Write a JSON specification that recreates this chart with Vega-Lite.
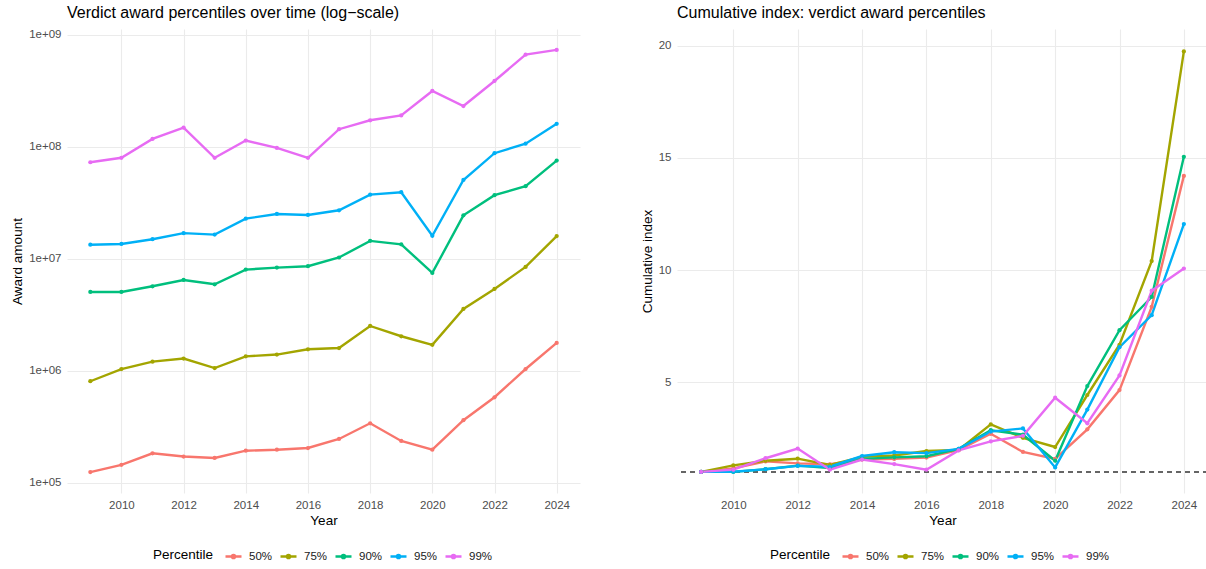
{
  "$schema": "https://vega.github.io/schema/vega-lite/v6.json",
  "background": "white",
  "padding": {"left": 10, "top": 4, "right": 0, "bottom": 0},
  "datasets": {
    "d": [
      {"year":2009,"pct":"50%","amount":125000,"index":1},
      {"year":2010,"pct":"50%","amount":145000,"index":1.16},
      {"year":2011,"pct":"50%","amount":184000,"index":1.47},
      {"year":2012,"pct":"50%","amount":172000,"index":1.38},
      {"year":2013,"pct":"50%","amount":167000,"index":1.34},
      {"year":2014,"pct":"50%","amount":194000,"index":1.55},
      {"year":2015,"pct":"50%","amount":198000,"index":1.58},
      {"year":2016,"pct":"50%","amount":205000,"index":1.64},
      {"year":2017,"pct":"50%","amount":247000,"index":1.97},
      {"year":2018,"pct":"50%","amount":341000,"index":2.70},
      {"year":2019,"pct":"50%","amount":237000,"index":1.89},
      {"year":2020,"pct":"50%","amount":198000,"index":1.58},
      {"year":2021,"pct":"50%","amount":363000,"index":2.90},
      {"year":2022,"pct":"50%","amount":582000,"index":4.65},
      {"year":2023,"pct":"50%","amount":1040000,"index":8.36},
      {"year":2024,"pct":"50%","amount":1780000,"index":14.2},
      {"year":2009,"pct":"75%","amount":809000,"index":1},
      {"year":2010,"pct":"75%","amount":1040000,"index":1.29},
      {"year":2011,"pct":"75%","amount":1210000,"index":1.50},
      {"year":2012,"pct":"75%","amount":1290000,"index":1.59},
      {"year":2013,"pct":"75%","amount":1060000,"index":1.31},
      {"year":2014,"pct":"75%","amount":1350000,"index":1.67},
      {"year":2015,"pct":"75%","amount":1400000,"index":1.73},
      {"year":2016,"pct":"75%","amount":1560000,"index":1.93},
      {"year":2017,"pct":"75%","amount":1600000,"index":1.98},
      {"year":2018,"pct":"75%","amount":2520000,"index":3.12},
      {"year":2019,"pct":"75%","amount":2040000,"index":2.52},
      {"year":2020,"pct":"75%","amount":1710000,"index":2.11},
      {"year":2021,"pct":"75%","amount":3580000,"index":4.43},
      {"year":2022,"pct":"75%","amount":5400000,"index":6.67},
      {"year":2023,"pct":"75%","amount":8490000,"index":10.4},
      {"year":2024,"pct":"75%","amount":16000000,"index":19.75},
      {"year":2009,"pct":"90%","amount":5070000,"index":1},
      {"year":2010,"pct":"90%","amount":5070000,"index":1.00},
      {"year":2011,"pct":"90%","amount":5700000,"index":1.12},
      {"year":2012,"pct":"90%","amount":6490000,"index":1.28},
      {"year":2013,"pct":"90%","amount":5940000,"index":1.17},
      {"year":2014,"pct":"90%","amount":8030000,"index":1.58},
      {"year":2015,"pct":"90%","amount":8370000,"index":1.65},
      {"year":2016,"pct":"90%","amount":8610000,"index":1.70},
      {"year":2017,"pct":"90%","amount":10300000,"index":2.03},
      {"year":2018,"pct":"90%","amount":14500000,"index":2.86},
      {"year":2019,"pct":"90%","amount":13500000,"index":2.66},
      {"year":2020,"pct":"90%","amount":7500000,"index":1.50},
      {"year":2021,"pct":"90%","amount":24500000,"index":4.83},
      {"year":2022,"pct":"90%","amount":37100000,"index":7.32},
      {"year":2023,"pct":"90%","amount":44600000,"index":8.80},
      {"year":2024,"pct":"90%","amount":75500000,"index":15.05},
      {"year":2009,"pct":"95%","amount":13400000,"index":1},
      {"year":2010,"pct":"95%","amount":13600000,"index":1.01},
      {"year":2011,"pct":"95%","amount":15000000,"index":1.12},
      {"year":2012,"pct":"95%","amount":17000000,"index":1.27},
      {"year":2013,"pct":"95%","amount":16500000,"index":1.23},
      {"year":2014,"pct":"95%","amount":22900000,"index":1.71},
      {"year":2015,"pct":"95%","amount":25200000,"index":1.88},
      {"year":2016,"pct":"95%","amount":24700000,"index":1.84},
      {"year":2017,"pct":"95%","amount":27200000,"index":2.03},
      {"year":2018,"pct":"95%","amount":37500000,"index":2.80},
      {"year":2019,"pct":"95%","amount":39400000,"index":2.94},
      {"year":2020,"pct":"95%","amount":16100000,"index":1.20},
      {"year":2021,"pct":"95%","amount":50700000,"index":3.78},
      {"year":2022,"pct":"95%","amount":87900000,"index":6.56},
      {"year":2023,"pct":"95%","amount":107000000,"index":7.99},
      {"year":2024,"pct":"95%","amount":161000000,"index":12.05},
      {"year":2009,"pct":"99%","amount":73000000,"index":1},
      {"year":2010,"pct":"99%","amount":80000000,"index":1.10},
      {"year":2011,"pct":"99%","amount":118000000,"index":1.61},
      {"year":2012,"pct":"99%","amount":149000000,"index":2.04},
      {"year":2013,"pct":"99%","amount":80000000,"index":1.10},
      {"year":2014,"pct":"99%","amount":114000000,"index":1.55},
      {"year":2015,"pct":"99%","amount":98000000,"index":1.35},
      {"year":2016,"pct":"99%","amount":80000000,"index":1.10},
      {"year":2017,"pct":"99%","amount":144000000,"index":1.96},
      {"year":2018,"pct":"99%","amount":173000000,"index":2.36},
      {"year":2019,"pct":"99%","amount":191000000,"index":2.61},
      {"year":2020,"pct":"99%","amount":316000000,"index":4.31},
      {"year":2021,"pct":"99%","amount":232000000,"index":3.17},
      {"year":2022,"pct":"99%","amount":388000000,"index":5.30},
      {"year":2023,"pct":"99%","amount":667000000,"index":9.08},
      {"year":2024,"pct":"99%","amount":735000000,"index":10.07}
    ]
  },
  "config": {
    "font": "Liberation Sans",
    "view": {"stroke": null},
    "axis": {
      "grid": true, "gridColor": "#EBEBEB", "gridWidth": 1.1,
      "domain": false, "ticks": false,
      "labelColor": "#4D4D4D", "labelFontSize": 11.5, "labelPadding": 6,
      "titleFontSize": 13.5, "titleFontWeight": "normal", "titleColor": "#000000"
    },
    "title": {"anchor": "start", "fontSize": 16, "fontWeight": "normal", "color": "#000000", "frame": "group", "offset": 8},
    "legend": {
      "orient": "none", "direction": "horizontal", "titleOrient": "left",
      "titleFontSize": 13.5, "titleFontWeight": "normal", "titleColor": "#000000", "titlePadding": 10,
      "labelFontSize": 11.5, "labelColor": "#1A1A1A", "labelOffset": 6,
      "symbolType": "M-1,0H1M-0.2,0A0.2,0.2 0 1,0 0.2,0A0.2,0.2 0 1,0 -0.2,0",
      "symbolSize": 256, "symbolStrokeWidth": 2.4, "columnPadding": 2
    },
    "concat": {"spacing": 60}
  },
  "resolve": {"scale": {"color": "independent"}, "legend": {"color": "independent"}},
  "hconcat": [
    {
      "title": "Verdict award percentiles over time (log−scale)",
      "width": 513, "height": 464,
      "data": {"name": "d"},
      "mark": {"type": "line", "strokeWidth": 2.4, "point": {"filled": true, "size": 18}},
      "encoding": {
        "x": {"field": "year", "type": "quantitative",
              "scale": {"domain": [2008.25, 2024.75], "nice": false, "zero": false},
              "axis": {"values": [2010, 2012, 2014, 2016, 2018, 2020, 2022, 2024], "format": "d", "title": "Year", "titlePadding": 3}},
        "y": {"field": "amount", "type": "quantitative",
              "scale": {"type": "log", "domain": [81300, 1130000000], "nice": false},
              "axis": {"values": [100000, 1000000, 10000000, 100000000, 1000000000], "labelExpr": "'1e+0' + round(log(datum.value)/LN10)", "title": "Award amount", "titlePadding": 4}},
        "color": {"field": "pct", "type": "nominal",
                  "scale": {"domain": ["50%", "75%", "90%", "95%", "99%"], "range": ["#F8766D", "#A3A500", "#00BF7D", "#00B0F6", "#E76BF3"]},
                  "legend": {"title": "Percentile", "legendX": 86, "legendY": 518}}
      }
    },
    {
      "title": "Cumulative index: verdict award percentiles",
      "width": 531, "height": 464,
      "layer": [
        {
          "data": {"values": [{}]},
          "mark": {"type": "rule", "strokeDash": [5, 4], "color": "#333333", "strokeWidth": 1.5},
          "encoding": {"y": {"datum": 1}}
        },
        {
          "data": {"name": "d"},
          "mark": {"type": "line", "strokeWidth": 2.4, "point": {"filled": true, "size": 18}},
          "encoding": {
            "x": {"field": "year", "type": "quantitative",
                  "scale": {"domain": [2008.25, 2024.75], "nice": false, "zero": false},
                  "axis": {"values": [2010, 2012, 2014, 2016, 2018, 2020, 2022, 2024], "format": "d", "title": "Year", "titlePadding": 3}},
            "y": {"field": "index", "type": "quantitative",
                  "scale": {"domain": [0.06, 20.75], "nice": false, "zero": false},
                  "axis": {"values": [5, 10, 15, 20], "title": "Cumulative index", "titlePadding": 4}},
            "color": {"field": "pct", "type": "nominal",
                      "scale": {"domain": ["50%", "75%", "90%", "95%", "99%"], "range": ["#F8766D", "#A3A500", "#00BF7D", "#00B0F6", "#E76BF3"]},
                      "legend": {"title": "Percentile", "legendX": 93, "legendY": 518}}
          }
        }
      ]
    }
  ]
}
